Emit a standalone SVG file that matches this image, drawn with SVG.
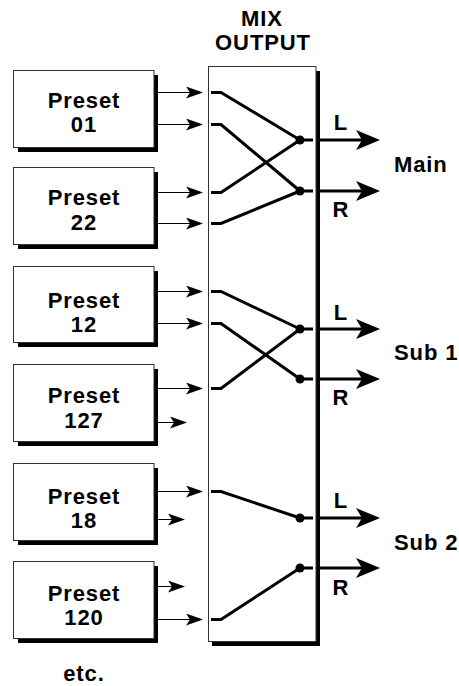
<svg xmlns="http://www.w3.org/2000/svg" width="459" height="686" viewBox="0 0 459 686">
<style>
text{font-family:"Liberation Sans",Arial,sans-serif;font-weight:bold;font-size:22px;letter-spacing:0.9px;fill:#000}
.c{text-anchor:middle}
.box{fill:#fff;stroke:#333;stroke-width:1}
.sh{fill:#000}
.in{stroke:#000;stroke-width:1;fill:none}
.wire{stroke:#000;stroke-width:3;fill:none;stroke-linejoin:miter}
.out{stroke:#000;stroke-width:3;fill:none}
</style>
<defs>
<marker id="ai" markerUnits="userSpaceOnUse" viewBox="0 0 17 12" markerWidth="17" markerHeight="12" refX="9" refY="6" orient="auto">
<path d="M17,6 L0,0 L4,6 L0,12 Z" fill="#000"/>
</marker>
<marker id="ao" markerUnits="userSpaceOnUse" viewBox="0 0 24 20" markerWidth="24" markerHeight="20" refX="12" refY="10" orient="auto">
<path d="M24,10 L0,0 L6,10 L0,20 Z" fill="#000"/>
</marker>
</defs>

<text class="c" x="262" y="25.5">MIX</text>
<text class="c" x="263" y="49.5">OUTPUT</text>

<g id="mix">
<rect class="sh" x="212" y="71" width="108" height="575"/>
<rect class="box" x="208.5" y="66.5" width="107.5" height="575"/>
</g>

<g id="preset01">
<rect class="sh" x="18" y="75" width="140" height="77"/>
<rect class="box" x="13.5" y="70.5" width="140.5" height="77"/>
<text class="c" x="84" y="108">Preset</text>
<text class="c" x="84" y="132">01</text>
</g>
<g id="preset22">
<rect class="sh" x="18" y="172" width="140" height="77"/>
<rect class="box" x="13.5" y="167.5" width="140.5" height="77"/>
<text class="c" x="84" y="205">Preset</text>
<text class="c" x="84" y="230">22</text>
</g>
<g id="preset12">
<rect class="sh" x="18" y="271" width="140" height="76"/>
<rect class="box" x="13.5" y="266.5" width="140.5" height="76"/>
<text class="c" x="84" y="308">Preset</text>
<text class="c" x="84" y="332">12</text>
</g>
<g id="preset127">
<rect class="sh" x="18" y="369" width="140" height="77"/>
<rect class="box" x="13.5" y="364.5" width="140.5" height="77"/>
<text class="c" x="84" y="403">Preset</text>
<text class="c" x="84" y="428">127</text>
</g>
<g id="preset18">
<rect class="sh" x="18" y="468" width="140" height="77"/>
<rect class="box" x="13.5" y="463.5" width="140.5" height="77"/>
<text class="c" x="84" y="504">Preset</text>
<text class="c" x="84" y="528">18</text>
</g>
<g id="preset120">
<rect class="sh" x="18" y="566" width="140" height="77"/>
<rect class="box" x="13.5" y="561.5" width="140.5" height="77"/>
<text class="c" x="84" y="601">Preset</text>
<text class="c" x="84" y="625">120</text>
</g>

<g id="connectors">
<line class="in" x1="158" y1="92.5" x2="195" y2="92.5" marker-end="url(#ai)"/>
<line class="in" x1="158" y1="124.5" x2="195" y2="124.5" marker-end="url(#ai)"/>
<line class="in" x1="158" y1="192.5" x2="195" y2="192.5" marker-end="url(#ai)"/>
<line class="in" x1="158" y1="223.5" x2="195" y2="223.5" marker-end="url(#ai)"/>
<line class="in" x1="158" y1="291.5" x2="195" y2="291.5" marker-end="url(#ai)"/>
<line class="in" x1="158" y1="323.5" x2="195" y2="323.5" marker-end="url(#ai)"/>
<line class="in" x1="158" y1="388.5" x2="195" y2="388.5" marker-end="url(#ai)"/>
<line class="in" x1="158" y1="422.5" x2="179" y2="422.5" marker-end="url(#ai)"/>
<line class="in" x1="158" y1="491.5" x2="195" y2="491.5" marker-end="url(#ai)"/>
<line class="in" x1="158" y1="519.5" x2="177" y2="519.5" marker-end="url(#ai)"/>
<line class="in" x1="158" y1="586.5" x2="177" y2="586.5" marker-end="url(#ai)"/>
<line class="in" x1="158" y1="619.5" x2="195" y2="619.5" marker-end="url(#ai)"/>

<path class="wire" d="M211,92.5 H221 L300,140 M211,124.5 H221 L300,191 M211,192.5 H221 L300,140 M211,223.5 H221 L300,191"/>
<path class="wire" d="M211,291.5 H221 L300,329 M211,323.5 H221 L300,379 M211,388.5 H221 L300,329"/>
<path class="wire" d="M211,491.5 H221 L300,518 M211,619.5 H221 L300,568"/>

<path class="wire" d="M300,140 H313 M300,191 H313 M300,329 H313 M300,379 H313 M300,518 H313 M300,568 H313"/>
<g fill="#000">
<circle cx="300" cy="140" r="4.5"/><circle cx="300" cy="191" r="4.5"/>
<circle cx="300" cy="329" r="4.5"/><circle cx="300" cy="379" r="4.5"/>
<circle cx="300" cy="518" r="4.5"/><circle cx="300" cy="568" r="4.5"/>
</g>

<line class="out" x1="318" y1="140" x2="368" y2="140" marker-end="url(#ao)"/>
<line class="out" x1="318" y1="191" x2="368" y2="191" marker-end="url(#ao)"/>
<line class="out" x1="318" y1="329" x2="368" y2="329" marker-end="url(#ao)"/>
<line class="out" x1="318" y1="379" x2="368" y2="379" marker-end="url(#ao)"/>
<line class="out" x1="318" y1="518" x2="368" y2="518" marker-end="url(#ao)"/>
<line class="out" x1="318" y1="568" x2="368" y2="568" marker-end="url(#ao)"/>
</g>

<text class="c" x="341" y="130">L</text>
<text class="c" x="341" y="217">R</text>
<text x="394" y="172">Main</text>
<text class="c" x="341" y="320">L</text>
<text class="c" x="341" y="405">R</text>
<text x="394" y="360">Sub 1</text>
<text class="c" x="341" y="508">L</text>
<text class="c" x="341" y="595">R</text>
<text x="394" y="550">Sub 2</text>

<text class="c" x="84" y="681">etc.</text>
</svg>
